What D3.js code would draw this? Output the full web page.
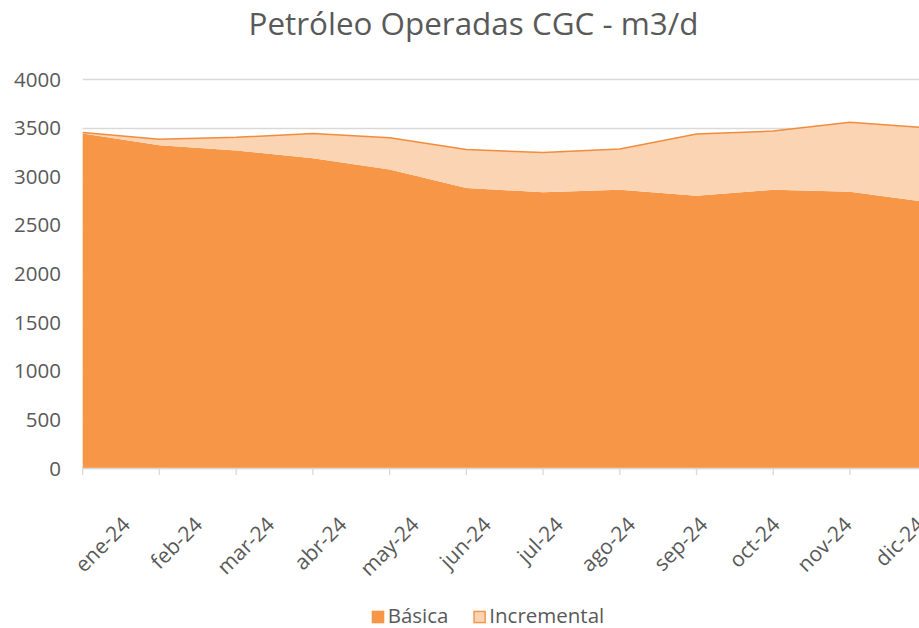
<!DOCTYPE html>
<html>
<head>
<meta charset="utf-8">
<script src="https://cdn.jsdelivr.net/npm/d3@7"></script>
<style>
  html, body { margin: 0; padding: 0; background: #fff; }
  svg { display: block; font-family: "Open Sans", sans-serif; }
</style>
</head>
<body>
<svg id="chart" width="919" height="628"></svg>
<script>
// Categories and series
const months = ["ene-24", "feb-24", "mar-24", "abr-24", "may-24", "jun-24",
                "jul-24", "ago-24", "sep-24", "oct-24", "nov-24", "dic-24"];
const basica      = [3440, 3320, 3265, 3185, 3070, 2880, 2835, 2860, 2800, 2860, 2840, 2735];
const incremental = [  10,   60,  135,  255,  327,  395,  408,  420,  635,  605,  715,  762];
const yTicks = [0, 500, 1000, 1500, 2000, 2500, 3000, 3500, 4000];
const seriesNames = ["Básica", "Incremental"];

const COLORS = {
  basica: '#F79646',
  incremental: '#FBD4B4',
  incrementalLine: '#F28C3C',
  grid: '#D9D9D9',
  text: '#595959',
};

const svg = d3.select('#chart');

// plot keeps running past the right edge, the reference is cropped there
const x = d3.scalePoint().domain(months).range([82.7, 926.7]);
// category labels sit on a slightly tighter pitch than the ticks
const xLabel = d3.scalePoint().domain(months).range([128, 922]);
const y = d3.scaleLinear().domain([0, 4000]).range([468, 79]);

const rows = months.map((m, i) => ({ month: m, basica: basica[i], incremental: incremental[i] }));
const stacked = d3.stack().keys(['basica', 'incremental'])(rows);

// ── gridlines (only the top ones stay visible above the areas) ──
svg.append('g').selectAll('line')
  .data(yTicks)
  .join('line')
    .attr('x1', x(months[0])).attr('x2', 919)
    .attr('y1', d => Math.round(y(d)) + 0.5).attr('y2', d => Math.round(y(d)) + 0.5)
    .attr('stroke', COLORS.grid).attr('stroke-width', 1.3);

// ── stacked areas ──
const area = d3.area()
  .x(d => x(d.data.month))
  .y0(d => y(d[0]))
  .y1(d => y(d[1]));

svg.append('g').selectAll('path')
  .data(stacked)
  .join('path')
    .attr('d', area)
    .attr('fill', d => d.key === 'basica' ? COLORS.basica : COLORS.incremental);

// outline along the top of the Incremental band
const topLine = d3.line()
  .x(d => x(d.data.month))
  .y(d => y(d[1]));
svg.append('path')
  .attr('d', topLine(stacked[1]))
  .attr('fill', 'none')
  .attr('stroke', COLORS.incrementalLine)
  .attr('stroke-width', 1.5);

// ── x axis: baseline + tick marks ──
svg.append('line')
  .attr('x1', x(months[0])).attr('x2', 919)
  .attr('y1', y(0) + 0.5).attr('y2', y(0) + 0.5)
  .attr('stroke', COLORS.grid).attr('stroke-width', 1.3);

svg.append('g').selectAll('line')
  .data(months)
  .join('line')
    .attr('x1', d => x(d)).attr('x2', d => x(d))
    .attr('y1', y(0)).attr('y2', y(0) + 7)
    .attr('stroke', COLORS.grid).attr('stroke-width', 1.3);

svg.append('g').selectAll('text')
  .data(months)
  .join('text')
    .attr('transform', d => `translate(${xLabel(d) + 3.5},${526}) rotate(-45)`)
    .attr('text-anchor', 'end')
    .attr('font-size', 21)
    .attr('fill', COLORS.text)
    .text(d => d);

// ── y axis labels ──
svg.append('g').selectAll('text')
  .data(yTicks)
  .join('text')
    .attr('x', 61)
    .attr('y', d => y(d) + 7.5)
    .attr('text-anchor', 'end')
    .attr('font-size', 20.5)
    .attr('fill', COLORS.text)
    .text(d => d);

// ── title ──
svg.append('text')
  .attr('x', 473.5).attr('y', 35)
  .attr('text-anchor', 'middle')
  .attr('font-size', 31.4)
  .attr('fill', COLORS.text)
  .text('Petróleo Operadas CGC - m3/d');

// ── legend ──
const legend = svg.append('g').attr('transform', 'translate(371.7, 610.7)');
const legendX = [0, 101.6];
seriesNames.forEach((name, i) => {
  const g = legend.append('g').attr('transform', `translate(${legendX[i]}, 0)`);
  g.append('rect')
    .attr('x', i === 1 ? 0.75 : 0).attr('y', i === 1 ? 0.75 : 0)
    .attr('width', i === 1 ? 11.1 : 12.6).attr('height', i === 1 ? 11.1 : 12.6)
    .attr('fill', i === 0 ? COLORS.basica : COLORS.incremental)
    .attr('stroke', i === 1 ? COLORS.basica : 'none')
    .attr('stroke-width', 1.5);
  g.append('text')
    .attr('x', 16).attr('y', 12.5)
    .attr('font-size', 20.5)
    .attr('fill', COLORS.text)
    .text(name);
});
</script>
</body>
</html>
